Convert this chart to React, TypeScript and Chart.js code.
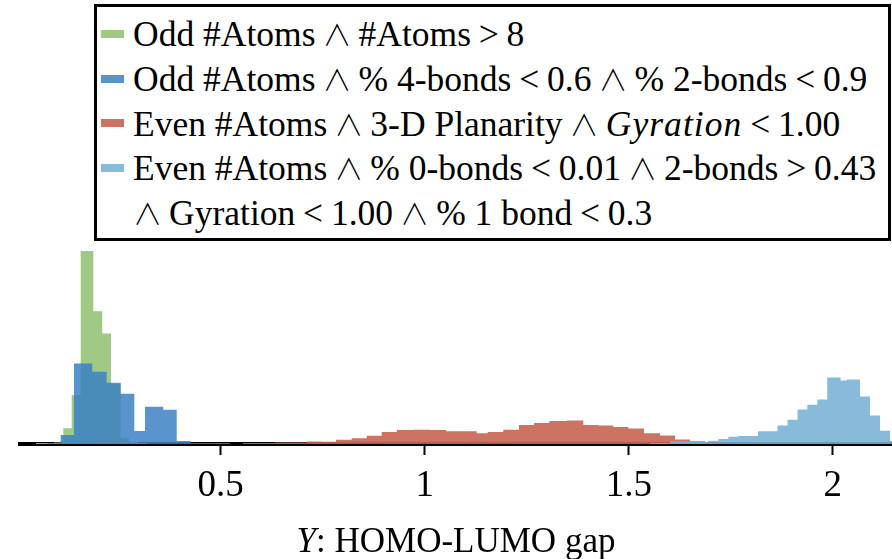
import React, { useEffect, useRef } from "react";
import { Chart, registerables } from "chart.js";

Chart.register(...registerables);

// ---- data ----
const xTickValues = [0.5, 1, 1.5, 2];
const xTickLabels = ["0.5", "1", "1.5", "2"];

const greenEdges = [0.0474, 0.0694, 0.0915, 0.1143, 0.1349, 0.1569, 0.1878, 0.2098, 0.2312, 0.2549, 0.2753, 0.2973, 0.3194];
const greenHeights = [0.025, 0.025, 0.0375, 0.39, 1.22, 4.8, 3.3, 2.75, 1.5, 0.15, 0.05, 0.025];

const blueEdges = [0.0743, 0.1079, 0.1405, 0.1853, 0.2206, 0.2549, 0.2883, 0.3145, 0.3593, 0.3922, 0.4265, 0.5228];
const blueHeights = [0.025, 0.225, 2.0, 1.8, 1.525, 1.25, 0.325, 0.925, 0.85, 0.075, 0.025];

const redEdges = [0.5547, 0.5963, 0.6331, 0.674, 0.7107, 0.7475, 0.7826, 0.821, 0.8578, 0.8945, 0.932, 0.972, 1.0129, 1.0521, 1.0889, 1.1273, 1.1543, 1.1925, 1.231, 1.2678, 1.3053, 1.3479, 1.3886, 1.4253, 1.4621, 1.4989, 1.5373, 1.5765, 1.6133, 1.6501, 1.6868, 1.704];
const redHeights = [0.025, 0.025, 0.04, 0.04, 0.065, 0.0575, 0.1075, 0.14, 0.2075, 0.3, 0.35, 0.3575, 0.35, 0.315, 0.315, 0.265, 0.3, 0.3575, 0.475, 0.525, 0.575, 0.5825, 0.475, 0.4575, 0.425, 0.385, 0.2675, 0.21, 0.11, 0.0675, 0.025];

const lightEdges = [1.552, 1.6011, 1.6501, 1.6942, 1.7194, 1.7439, 1.7684, 1.8167, 1.8645, 1.889, 1.9135, 1.9375, 1.962, 1.9863, 2.0189, 2.0341, 2.0667, 2.0912, 2.1157, 2.1402, 2.1647];
const lightHeights = [0.025, 0.075, 0.05, 0.0825, 0.125, 0.1825, 0.2, 0.315, 0.4625, 0.605, 0.8575, 0.975, 1.105, 1.655, 1.5825, 1.6075, 1.18, 0.7075, 0.3325, 0.075];

const seriesColors = [
  "rgba(150,195,120,0.9)",
  "rgba(60,130,195,0.85)",
  "rgba(200,100,82,0.9)",
  "rgba(120,178,212,0.88)",
];

const xMin = 0.0082;
const xMax = 2.145;
const yMax = 5;

function steps(edges: number[], heights: number[]) {
  const pts: { x: number; y: number }[] = [{ x: edges[0], y: 0 }];
  heights.forEach((h, i) => pts.push({ x: edges[i], y: h }));
  pts.push({ x: edges[edges.length - 1], y: 0 });
  return pts;
}

const serif = "'Liberation Serif', 'Times New Roman', serif";
const wedgeStyle: React.CSSProperties = {
  fontFamily: "'DejaVu Sans ExtraLight', 'Noto Sans CJK JP', 'DejaVu Sans', sans-serif",
  fontWeight: 200,
  fontSize: "0.82em",
};

const Op = ({ c }: { c: string }) =>
  c === "∧" ? (
    <span style={{ margin: "0 0.24em", ...wedgeStyle }}>{c}</span>
  ) : (
    <span style={{ margin: "0 0.22em" }}>{c}</span>
  );

export default function App() {
  const ref = useRef<HTMLCanvasElement | null>(null);

  useEffect(() => {
    if (!ref.current) return;
    const mk = (edges: number[], heights: number[], i: number, order: number) => ({
      type: "line" as const,
      data: steps(edges, heights),
      stepped: true,
      fill: "origin",
      backgroundColor: seriesColors[i],
      borderColor: seriesColors[i],
      borderWidth: 0,
      pointRadius: 0,
      tension: 0,
      order,
    });
    const chart = new Chart(ref.current, {
      type: "line",
      data: {
        datasets: [
          mk(greenEdges, greenHeights, 0, 4),
          mk(blueEdges, blueHeights, 1, 3),
          mk(redEdges, redHeights, 2, 2),
          mk(lightEdges, lightHeights, 3, 1),
        ] as any,
      },
      options: {
        responsive: false,
        animation: false,
        devicePixelRatio: 1,
        layout: { padding: { top: 243, left: 20, right: 0, bottom: 0 } },
        plugins: { legend: { display: false }, tooltip: { enabled: false } },
        scales: {
          x: {
            type: "linear",
            min: xMin,
            max: xMax,
            afterBuildTicks: (s: any) => {
              s.ticks = xTickValues.map((v) => ({ value: v }));
            },
            afterFit: (s: any) => {
              s.height = 115;
            },
            ticks: {
              callback: (v: any) => {
                const i = xTickValues.indexOf(Number(v));
                return i >= 0 ? xTickLabels[i] : "";
              },
              color: "#000",
              font: { family: serif, size: 37 },
              padding: 9,
              maxRotation: 0,
              autoSkip: false,
            },
            grid: {
              display: true,
              drawOnChartArea: false,
              drawTicks: true,
              tickLength: 11,
              tickWidth: 2,
              tickColor: "#000",
              color: "#000",
            },
            border: { display: true, color: "#000", width: 4 },
          },
          y: { display: false, min: 0, max: yMax },
        },
      } as any,
    });
    return () => chart.destroy();
  }, []);

  const boxLeft = 94;
  const boxTop = 4;
  const bw = 3;
  const lineStyle = (cy: number): React.CSSProperties => ({
    position: "absolute",
    left: 133 - boxLeft - bw,
    top: cy - boxTop - bw - 22,
    height: 44,
    lineHeight: "44px",
    whiteSpace: "nowrap",
  });
  const patch = (cy: number, color: string): React.CSSProperties => ({
    position: "absolute",
    left: 101 - boxLeft - bw,
    top: cy - boxTop - bw - 3.5,
    width: 23,
    height: 8,
    background: color,
  });

  const centers = [33, 78, 122.5, 167, 212];
  const mathItalic: React.CSSProperties = { fontStyle: "italic", letterSpacing: "0.03em" };

  return (
    <div style={{ position: "absolute", left: 0, top: 0, width: 892, height: 559, fontFamily: serif, color: "#000" }}>
      <canvas ref={ref} width={892} height={559} style={{ position: "absolute", left: 0, top: 0 }} />
      <div
        style={{
          position: "absolute",
          left: boxLeft,
          top: boxTop,
          width: 892 - boxLeft - 1,
          height: 237,
          boxSizing: "border-box",
          border: `${bw}px solid #000`,
          background: "#fff",
          fontSize: 35.5,
        }}
      >
        <div style={patch(centers[0], seriesColors[0])} />
        <div style={lineStyle(centers[0])}>
          Odd #Atoms<Op c="∧" />#Atoms<Op c=">" />8
        </div>
        <div style={patch(centers[1], seriesColors[1])} />
        <div style={lineStyle(centers[1])}>
          Odd #Atoms<Op c="∧" />% 4-bonds<Op c="<" />0.6<Op c="∧" />% 2-bonds<Op c="<" />0.9
        </div>
        <div style={patch(centers[2], seriesColors[2])} />
        <div style={lineStyle(centers[2])}>
          Even #Atoms<Op c="∧" />3-D Planarity<Op c="∧" /><span style={mathItalic}>Gyration</span><Op c="<" />1.00
        </div>
        <div style={patch(centers[3], seriesColors[3])} />
        <div style={lineStyle(centers[3])}>
          Even #Atoms<Op c="∧" />% 0-bonds<Op c="<" />0.01<Op c="∧" />2-bonds<Op c=">" />0.43
        </div>
        <div style={lineStyle(centers[4])}>
          <span style={{ marginRight: "0.24em", ...wedgeStyle }}>∧</span>Gyration<Op c="<" />1.00<Op c="∧" />% 1 bond<Op c="<" />0.3
        </div>
      </div>
      <div
        style={{
          position: "absolute",
          left: 20,
          width: 872,
          top: 541 - 22,
          height: 44,
          lineHeight: "44px",
          textAlign: "center",
          fontSize: 35,
          whiteSpace: "nowrap",
        }}
      >
        <i>Y</i>: HOMO-LUMO gap
      </div>
    </div>
  );
}
